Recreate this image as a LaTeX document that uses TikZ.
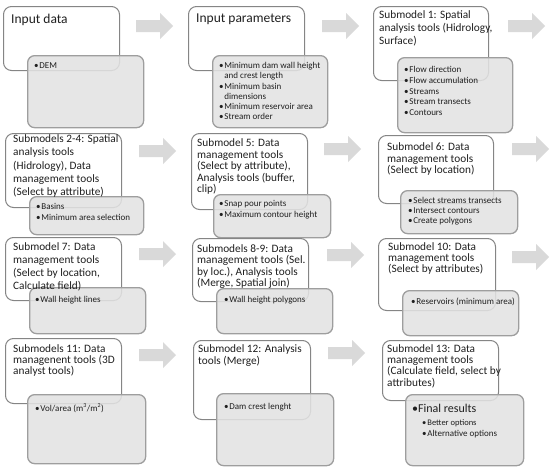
\documentclass[tikz,border=0pt]{standalone}
\usepackage{fontspec}
\setmainfont{Carlito}
\definecolor{wborder}{HTML}{858585}
\definecolor{gborder}{HTML}{9E9E9E}
\definecolor{gfill}{HTML}{E2E2E2}
\definecolor{arrowc}{HTML}{D9D9D9}
\definecolor{txt}{HTML}{202020}
\newcommand{\bitem}[1]{\makebox[5.2pt][l]{\textbullet}#1}
\newcommand{\bcont}[1]{\hspace*{5.2pt}#1}
\newcommand{\boxat}[6]{\node[#1, anchor=north west, minimum width={(#5-#3)*1pt}, minimum height={(#6-#4)*1pt}] (#2) at (#3,#4) {};}
\newcommand{\bigarrow}[3]{\coordinate (#1) at (#2,#3);
  \fill[arrowc] (#1) ++(0,-6) -- ++(24,0) -- ++(0,-7) -- ++(13,13) -- ++(-13,13) -- ++(0,-7) -- ++(-24,0) -- cycle;}
\tikzset{
  wbox/.style={draw=wborder, line width=1pt, rounded corners=8pt, fill=white, inner sep=0pt},
  gbox/.style={draw=gborder, line width=1.3pt, rounded corners=7pt, fill=gfill, fill opacity=0.88, inner sep=0pt},
  ttl/.style={anchor=north west, inner sep=0pt, align=left, text=txt, font=\fontsize{11.3}{#1}\selectfont},
  ttl/.default=13,
  bigttl/.style={anchor=north west, inner sep=0pt, align=left, text=txt, font=\fontsize{13.5}{16}\selectfont},
  bul/.style={anchor=north west, inner sep=0pt, align=left, text=txt, font=\fontsize{9}{#1}\selectfont},
  bul/.default=10.7
}
\begin{document}
\begin{tikzpicture}[x=1pt,y=-1pt]
\useasboundingbox (0,0) rectangle (550,471);
% arrows
\bigarrow{a11}{136}{26}
\bigarrow{a12}{322}{26}
\bigarrow{a13}{508}{26}
\bigarrow{a21}{139}{151}
\bigarrow{a22}{324}{149}
\bigarrow{a23}{512}{149}
\bigarrow{a31}{139}{254}
\bigarrow{a32}{327}{255}
\bigarrow{a33}{512}{257}
\bigarrow{a41}{139}{355}
\bigarrow{a42}{328}{353}
% row 1
\boxat{wbox}{w11}{3}{6}{119}{70}
\boxat{gbox}{g11}{27}{55}{143}{127}
\boxat{wbox}{w12}{188}{6}{304}{70}
\boxat{gbox}{g12}{212}{55}{327}{127}
\boxat{wbox}{w13}{373}{6}{488}{80}
\boxat{gbox}{g13}{397}{57}{512}{132}
% row 2
\boxat{wbox}{w21}{5}{133}{121}{207}
\boxat{gbox}{g21}{29}{196}{143}{234}
\boxat{wbox}{w22}{191}{133}{307}{209}
\boxat{gbox}{g22}{213}{194}{330}{237}
\boxat{wbox}{w23}{378}{135}{493}{203}
\boxat{gbox}{g23}{400}{190}{517}{233}
% row 3
\boxat{wbox}{w31}{5}{237}{121}{300}
\boxat{gbox}{g31}{29}{287}{145}{333}
\boxat{wbox}{w32}{192}{238}{308}{301}
\boxat{gbox}{g32}{216}{288}{332}{333}
\boxat{wbox}{w33}{378}{238}{495}{310}
\boxat{gbox}{g33}{402}{290}{518}{335}
% row 4
\boxat{wbox}{w41}{5}{338}{121}{403}
\boxat{gbox}{g41}{27}{394}{145}{463}
\boxat{wbox}{w42}{193}{340}{310}{419}
\boxat{gbox}{g42}{216}{393}{333}{465}
\boxat{wbox}{w43}{382}{340}{498}{400}
\boxat{gbox}{g43}{405}{394}{523}{465}
% titles
\node[bigttl] (t11) at (11,13.6) {Input data};
\node[bigttl] (t12) at (196,13.6) {Input parameters};
\node[ttl=13] (t13) at (379,10.4) {Submodel 1: Spatial\\analysis tools (Hidrology,\\Surface)};
\node[ttl=13.3] (t21) at (13,134.6) {Submodels 2-4: Spatial\\analysis tools\\(Hidrology), Data\\management tools\\(Select by attribute)};
\node[ttl=11.6] (t22) at (197,138.4) {Submodel 5: Data\\management tools\\(Select by attribute),\\Analysis tools (buffer,\\clip)};
\node[ttl=11.6] (t23) at (387,142.4) {Submodel 6: Data\\management tools\\(Select by location)};
\node[ttl=13] (t31) at (13,242.4) {Submodel 7: Data\\management tools\\(Select by location,\\Calculate field)};
\node[ttl=11.4] (t32) at (197,244.4) {Submodels 8-9: Data\\management tools (Sel.\\by loc.), Analysis tools\\(Merge, Spatial join)};
\node[ttl=11.2] (t33) at (388,242.4) {Submodel 10: Data\\management tools\\(Select by attributes)};
\node[ttl=11.2] (t41) at (13,344.4) {Submodels 11: Data\\managenent tools (3D\\analyst tools)};
\node[ttl=12] (t42) at (198,344.4) {Submodel 12: Analysis\\tools (Merge)};
\node[ttl=11.2] (t43) at (387,344.4) {Submodel 13: Data\\management tools\\(Calculate field, select by\\attributes)};
% bullets
\node[bul] (b11) at (34,62.3) {\bitem{DEM}};
\node[bul=10.2] (b12) at (219,62.3) {\bitem{Minimum dam wall height}\\\bcont{and crest length}\\\bitem{Minimum basin}\\\bcont{dimensions}\\\bitem{Minimum reservoir area}\\\bitem{Stream order}};
\node[bul=10.7] (b13) at (404,66.3) {\bitem{Flow direction}\\\bitem{Flow accumulation}\\\bitem{Streams}\\\bitem{Stream transects}\\\bitem{Contours}};
\node[bul=11] (b21) at (36,203.3) {\bitem{Basins}\\\bitem{Minimum area selection}};
\node[bul=11] (b22) at (219,200.3) {\bitem{Snap pour points}\\\bitem{Maximum contour height}};
\node[bul=10] (b23) at (408,197.3) {\bitem{Select streams transects}\\\bitem{Intersect contours}\\\bitem{Create polygons}};
\node[bul] (b31) at (35,296.3) {\bitem{Wall height lines}};
\node[bul] (b32) at (224,296.3) {\bitem{Wall height polygons}};
\node[bul] (b33) at (411,297.3) {\bitem{Reservoirs (minimum area)}};
\node[bul] (b41) at (35,403.3) {\bitem{Vol/area (m\textsuperscript{3}/m\textsuperscript{2})}};
\node[bul] (b42) at (224,403.3) {\bitem{Dam crest lenght}};
\node[anchor=north west, inner sep=0pt, text=txt, font=\fontsize{12}{14}\selectfont] (b43) at (412,404.2) {\makebox[6pt][l]{\textbullet}Final results};
\node[bul=11] (b43s) at (422,419.3) {\fontsize{8.5}{11}\selectfont\bitem{Better options}\\\bitem{Alternative options}};
\end{tikzpicture}
\end{document}
